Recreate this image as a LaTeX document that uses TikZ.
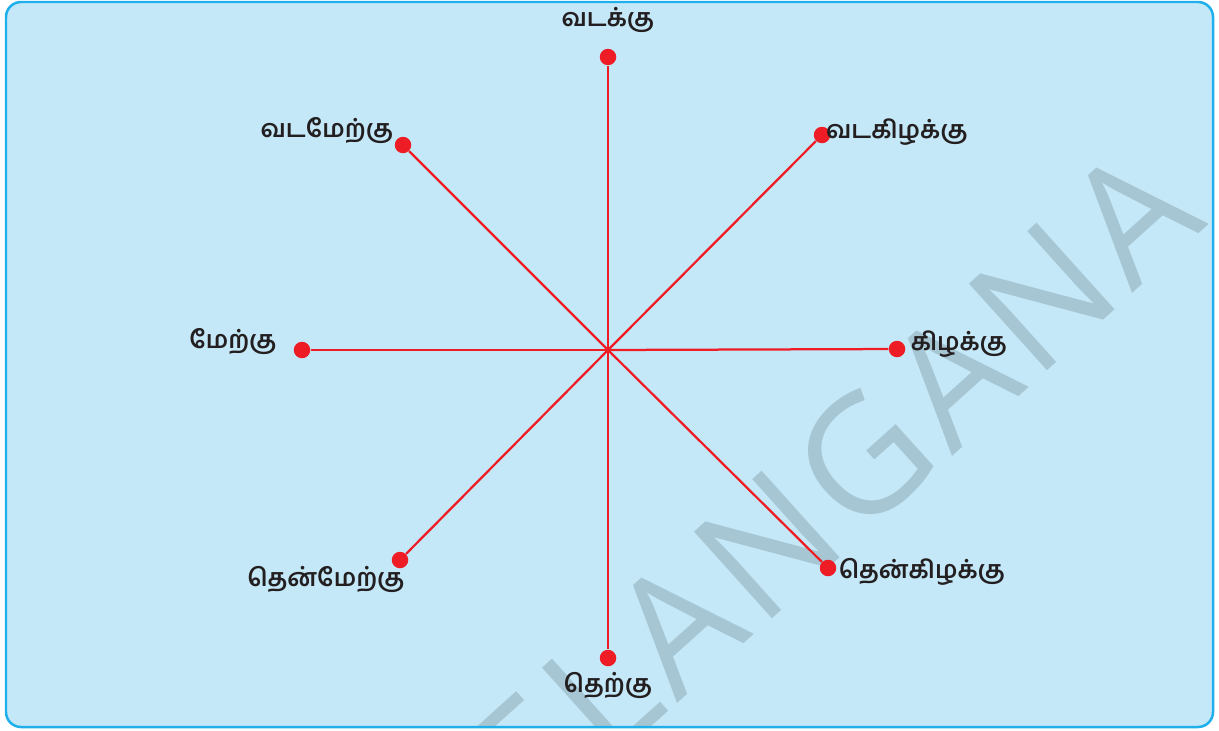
\documentclass[tikz,border=0pt]{standalone}
\usepackage{fontspec}
\newfontfamily\tamilfont[Script=Tamil,UprightFont=* SemiBold]{Hind Madurai}
\newfontfamily\markfont[LetterSpace=5]{Open Sans}
\usetikzlibrary{positioning}
\definecolor{Sky}{HTML}{C5E8F8}
\definecolor{Frame}{HTML}{1FB0EC}
\definecolor{Pin}{HTML}{EE1C25}
\definecolor{Mark}{HTML}{A7C6D3}
\definecolor{Ink}{HTML}{231F20}

\begin{document}
\begin{tikzpicture}[x=0.02cm,y=-0.02cm,
  pin/.style={circle,fill=Pin,inner sep=0pt,minimum size=0.33cm},
  ray/.style={Pin,line width=0.045cm},
  dirlabel/.style={font=\tamilfont\fontsize{14}{17}\selectfont,text=Ink,inner sep=0pt}]
  \useasboundingbox (0,0) rectangle (1219,730);
  \fill[Sky,rounded corners=0.3cm] (6,2) rectangle (1213,727);
  % watermark
  \begin{scope}
    \clip[rounded corners=0.3cm] (6,2) rectangle (1213,727);
    \node[rotate=42,anchor=base east,text=Mark,inner sep=0pt,
      font=\markfont\fontsize{93}{93}\selectfont] (mark) at (1210,224) {TELANGANA};
  \end{scope}
  \draw[Frame,line width=0.05cm,rounded corners=0.3cm] (6,2) rectangle (1213,727);

  \coordinate (o) at (608,350);
  \foreach \d/\px/\py in {n/608/57,ne/822/135,e/897/349,se/828/568,s/608/658,sw/400/560,w/302/350,nw/403/145}{
    \node[pin] (\d) at (\px,\py) {};
  }
  \foreach \d in {n,ne,e,se,s,sw,w,nw}
    \draw[ray] (o) -- (\d);

  % labels
  \node[dirlabel] (ln)  at (608,20)  {வடக்கு};
  \node[dirlabel] (lnw) at (327,131) {வடமேற்கு};
  \node[dirlabel] (lne) at (897,132) {வடகிழக்கு};
  \node[dirlabel] (lw)  at (233,342) {மேற்கு};
  \node[dirlabel] (le)  at (959,344) {கிழக்கு};
  \node[dirlabel] (lsw) at (326,579) {தென்மேற்கு};
  \node[dirlabel] (lse) at (922,572) {தென்கிழக்கு};
  \node[dirlabel] (ls)  at (608,685) {தெற்கு};
\end{tikzpicture}
\end{document}
